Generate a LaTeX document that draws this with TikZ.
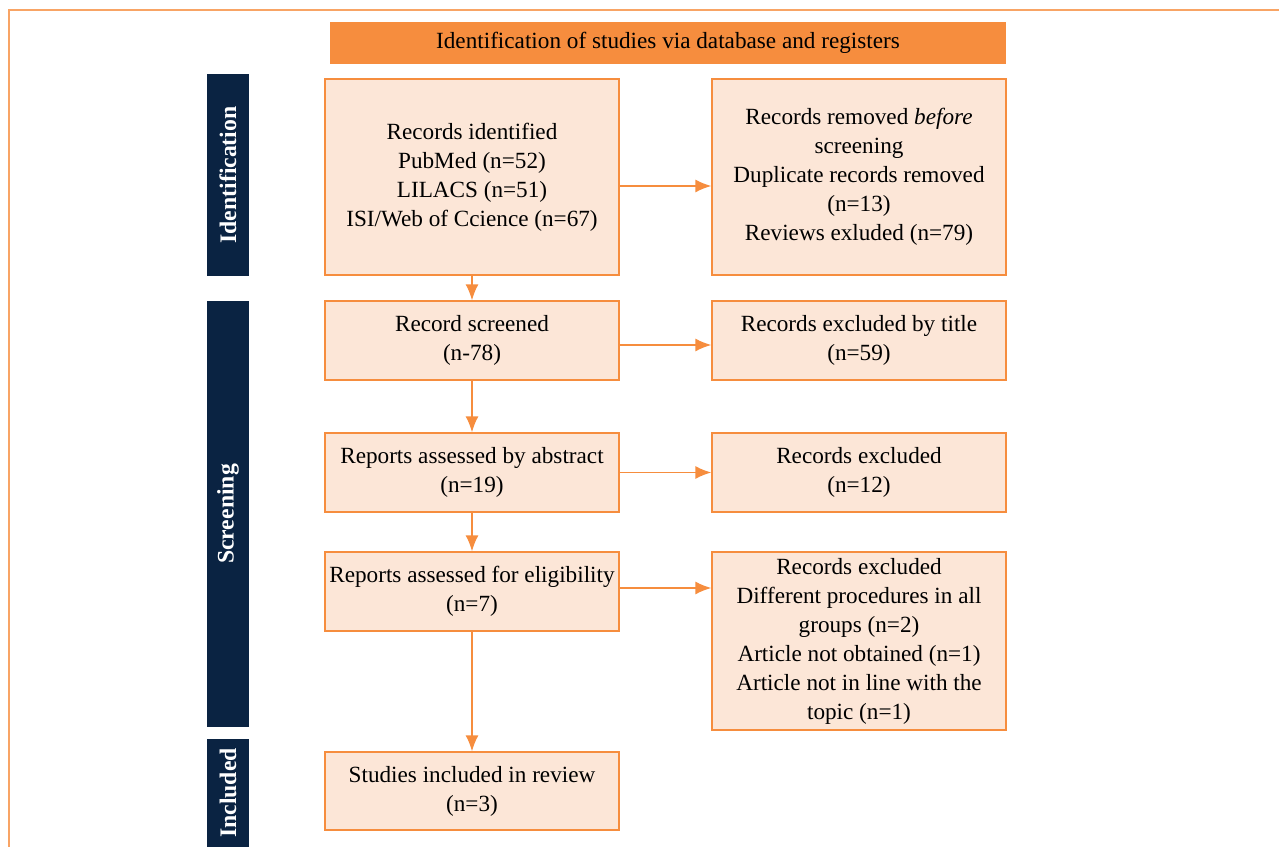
\documentclass[tikz,border=0pt]{standalone}
\usepackage{fontspec}
\setmainfont{Liberation Serif}
\usepackage{xcolor}
\usetikzlibrary{calc, positioning, arrows.meta}

\definecolor{prismaorange}{HTML}{F68D3E}
\definecolor{boxfill}{HTML}{FCE6D7}
\definecolor{navy}{HTML}{0A2342}

\tikzset{
    box/.style={draw=prismaorange, fill=boxfill, line width=0.8pt, minimum width=5.88cm,
        align=center, inner sep=0pt, font=\fontsize{13.2}{16.5}\selectfont},
    sidebar/.style={fill=navy, text=white, rotate=90, minimum height=0.84cm, inner sep=0pt,
        font=\fontsize{13.5}{16.5}\selectfont\bfseries},
    flow/.style={draw=prismaorange, line width=0.8pt, -{Latex[length=3.2mm, width=2.6mm]}}
}

\begin{document}
\begin{tikzpicture}[x=0.02cm, y=-0.02cm]
    \useasboundingbox (0,0) rectangle (1279,847);

    % cadre
    \draw[prismaorange!80, line width=0.8pt] (9,847) -- (9,10) -- (1279,10);

    % en-tete
    \node[fill=prismaorange, minimum width=13.52cm, minimum height=0.84cm, inner sep=0pt,
        font=\fontsize{13.2}{16.5}\selectfont] (header) at (668,43)
        {Identification of studies via database and registers};

    % bandes laterales
    \node[sidebar, minimum width=4.04cm] (identif) at (228,175) {Identification};
    \node[sidebar, minimum width=8.52cm] (screen) at (228,514) {Screening};
    \node[sidebar, minimum width=2.16cm] (incl) at (228,793) {Included};

    % colonne gauche
    \node[box, minimum height=3.92cm] (ident) at (472,177)
        {Records identified\\ PubMed (n=52)\\ LILACS (n=51)\\ ISI/Web of Ccience (n=67)};
    \node[box, minimum height=1.58cm] (screened) at (472,340.5)
        {Record screened\\ (n-78)};
    \node[box, minimum height=1.58cm] (abstract) at (472,472.5)
        {Reports assessed by abstract\\ (n=19)};
    \node[box, minimum height=1.58cm] (elig) at (472,591.5)
        {Reports assessed for eligibility\\ (n=7)};
    \node[box, minimum height=1.56cm] (included) at (472,791)
        {Studies included in review\\ (n=3)};

    % colonne droite
    \node[box, minimum height=3.92cm] (removed) at (859,177)
        {Records removed \textit{before}\\ screening\\ Duplicate records removed\\ (n=13)\\ Reviews exluded (n=79)};
    \node[box, minimum height=1.58cm] (extitle) at (859,340.5)
        {Records excluded by title\\ (n=59)};
    \node[box, minimum height=1.58cm] (exabs) at (859,472.5)
        {Records excluded\\ (n=12)};
    \node[box, minimum height=3.56cm] (exfull) at (859,641)
        {Records excluded\\ Different procedures in all\\ groups (n=2)\\ Article not obtained (n=1)\\ Article not in line with the\\ topic (n=1)};

    % fleches
    \draw[flow] (ident) -- (screened);
    \draw[flow] (screened) -- (abstract);
    \draw[flow] (abstract) -- (elig);
    \draw[flow] (elig) -- (included);

    \coordinate (identout) at ([yshift=-0.18cm]ident.east);
    \coordinate (screenout) at ([yshift=-0.09cm]screened.east);
    \coordinate (eligout) at ([yshift=0.07cm]elig.east);
    \draw[flow] (identout) -- (identout -| removed.west);
    \draw[flow] (screenout) -- (screenout -| extitle.west);
    \draw[flow] (abstract.east) -- (exabs.west);
    \draw[flow] (eligout) -- (eligout -| exfull.west);
\end{tikzpicture}
\end{document}
